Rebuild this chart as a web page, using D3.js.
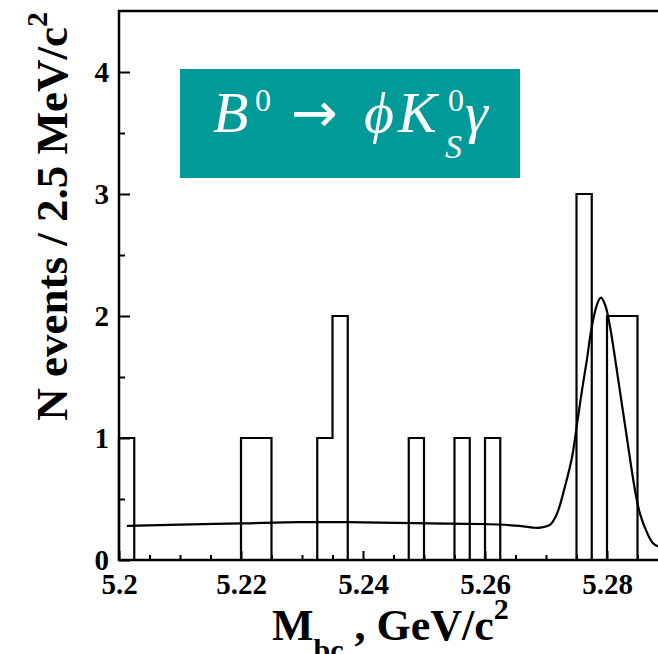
<!DOCTYPE html>
<html>
<head>
<meta charset="utf-8">
<script src="https://cdn.jsdelivr.net/npm/d3@7"></script>
<style>
  html, body { margin: 0; padding: 0; background: #ffffff; }
  svg { display: block; }
  .tick text { font-family: "Liberation Serif", "Times New Roman", serif; font-weight: bold; }
</style>
</head>
<body>
<svg id="chart" width="658" height="654"></svg>
<script>
// Histogram of M_bc candidates, 2.5 MeV/c^2 bins starting at 5.2 GeV/c^2
const binStart = 5.2;
const binWidth = 0.0025;
const binCounts = [1, 0, 0, 0, 0, 0, 0, 0, 1, 1, 0, 0, 0, 1, 2, 0, 0, 0, 0, 1, 0, 0, 1, 0, 1,
                   0, 0, 0, 0, 0, 3, 0, 2, 2, 0, 0];

// Fit curve (signal + background), sampled along M_bc
const fitMass  = [5.2013, 5.2100, 5.2202, 5.2297, 5.2375, 5.2428, 5.2510, 5.2592, 5.2657, 5.2679,
                  5.2690, 5.2707, 5.2718, 5.2731, 5.2743, 5.2751, 5.2759, 5.2767, 5.2775, 5.2784,
                  5.2790, 5.2797, 5.2805, 5.2813, 5.2821, 5.2830, 5.2838, 5.2846, 5.2854, 5.2866,
                  5.2875, 5.2884];
const fitValue = [0.28, 0.29, 0.30, 0.31, 0.31, 0.306, 0.30, 0.295, 0.28, 0.265,
                  0.265, 0.29, 0.38, 0.60, 0.85, 1.12, 1.39, 1.64, 1.91, 2.10,
                  2.15, 2.09, 1.91, 1.66, 1.39, 1.09, 0.82, 0.57, 0.38, 0.22,
                  0.14, 0.11];

// Axis ticks
const xMajorTicks = [5.2, 5.22, 5.24, 5.26, 5.28];
const xMinorTicks = [5.205, 5.21, 5.215, 5.225, 5.23, 5.235, 5.245, 5.25, 5.255, 5.265, 5.27, 5.275, 5.285];
const xTickLabels = ["5.2", "5.22", "5.24", "5.26", "5.28"];
const yMajorTicks = [0, 1, 2, 3, 4];
const yMinorTicks = [0.5, 1.5, 2.5, 3.5];
const yTickLabels = ["0", "1", "2", "3", "4"];

const svg = d3.select("#chart");
const serif = "'Liberation Serif', 'Times New Roman', serif";

const x = d3.scaleLinear().domain([5.2, 5.29]).range([119, 668]);
const y = d3.scaleLinear().domain([0, 4.5]).range([560, 11]);

// Frame
svg.append("rect")
  .attr("x", x(5.2)).attr("y", y(4.5))
  .attr("width", x(5.29) - x(5.2)).attr("height", y(0) - y(4.5))
  .attr("fill", "none").attr("stroke", "#000").attr("stroke-width", 2.5);

// X axis: major ticks with labels, minor ticks without
const xAxis = svg.append("g").attr("transform", `translate(0,${y(0)})`)
  .call(d3.axisBottom(x).tickValues(xMajorTicks)
        .tickFormat((d, i) => xTickLabels[i]).tickSizeInner(-9).tickSizeOuter(0).tickPadding(13));
xAxis.select(".domain").remove();
xAxis.selectAll("line").attr("stroke-width", 2);
xAxis.selectAll("text").attr("font-size", 29).attr("fill", "#000");

const xMinor = svg.append("g").attr("transform", `translate(0,${y(0)})`)
  .call(d3.axisBottom(x).tickValues(xMinorTicks).tickFormat("").tickSizeInner(-5).tickSizeOuter(0));
xMinor.select(".domain").remove();
xMinor.selectAll("line").attr("stroke-width", 2);

// Y axis
const yAxis = svg.append("g").attr("transform", `translate(${x(5.2)},0)`)
  .call(d3.axisLeft(y).tickValues(yMajorTicks)
        .tickFormat((d, i) => yTickLabels[i]).tickSizeInner(-11).tickSizeOuter(0).tickPadding(10));
yAxis.select(".domain").remove();
yAxis.selectAll("line").attr("stroke-width", 2);
yAxis.selectAll("text").attr("font-size", 29).attr("fill", "#000");

const yMinor = svg.append("g").attr("transform", `translate(${x(5.2)},0)`)
  .call(d3.axisLeft(y).tickValues(yMinorTicks).tickFormat("").tickSizeInner(-6).tickSizeOuter(0));
yMinor.select(".domain").remove();
yMinor.selectAll("line").attr("stroke-width", 2);

// Histogram outline as a step path
const stepPts = [[binStart, 0]];
binCounts.forEach((c, i) => {
  const lo = binStart + i * binWidth;
  stepPts.push([lo, c], [lo + binWidth, c]);
});
stepPts.push([binStart + binCounts.length * binWidth, 0]);
svg.append("path")
  .datum(stepPts)
  .attr("d", d3.line().x(d => x(d[0])).y(d => y(d[1])))
  .attr("fill", "none").attr("stroke", "#000").attr("stroke-width", 2.2)
  .attr("stroke-linejoin", "miter");

// Fit curve
svg.append("path")
  .datum(fitMass.map((m, i) => [m, fitValue[i]]))
  .attr("d", d3.line().x(d => x(d[0])).y(d => y(d[1])).curve(d3.curveCatmullRom.alpha(0.5)))
  .attr("fill", "none").attr("stroke", "#000").attr("stroke-width", 2.2);

// Decay label box
svg.append("rect")
  .attr("x", 180).attr("y", 69).attr("width", 340).attr("height", 109)
  .attr("fill", "#009b98");
const decay = svg.append("g")
  .attr("font-family", serif).attr("fill", "#fff");
const piece = (t, px, py, size, italic, family) => decay.append("text")
  .attr("x", px).attr("y", py).attr("font-size", size)
  .attr("font-style", italic ? "italic" : "normal")
  .attr("font-family", family || serif).text(t);
piece("B", 213, 132, 58, true);
piece("0", 255, 111, 32, false);
piece("\u2192", 291, 132, 56, false, "'DejaVu Sans', sans-serif");
piece("\u03D5", 364, 132, 58, true);
piece("K", 398, 132, 58, true);
piece("0", 448, 111, 32, false);
piece("S", 445, 158, 34, true);
piece("\u03B3", 465, 132, 58, true);

// Y axis title
const yTitle = svg.append("text")
  .attr("transform", "translate(67,12) rotate(-90)")
  .attr("text-anchor", "end")
  .attr("font-family", serif).attr("font-weight", "bold").attr("font-size", 45).attr("fill", "#000");
yTitle.append("tspan").text("N events / 2.5 MeV/c");
yTitle.append("tspan").attr("font-size", 30).attr("dy", -20).text("2");

// X axis title
const xTitle = svg.append("text")
  .attr("x", 272).attr("y", 640)
  .attr("font-family", serif).attr("font-weight", "bold").attr("font-size", 44).attr("fill", "#000");
xTitle.append("tspan").text("M");
xTitle.append("tspan").attr("font-size", 30).attr("dy", 20).text("bc");
xTitle.append("tspan").attr("dy", -20).text(" , GeV/c");
xTitle.append("tspan").attr("font-size", 30).attr("dy", -21).text("2");
</script>
</body>
</html>
